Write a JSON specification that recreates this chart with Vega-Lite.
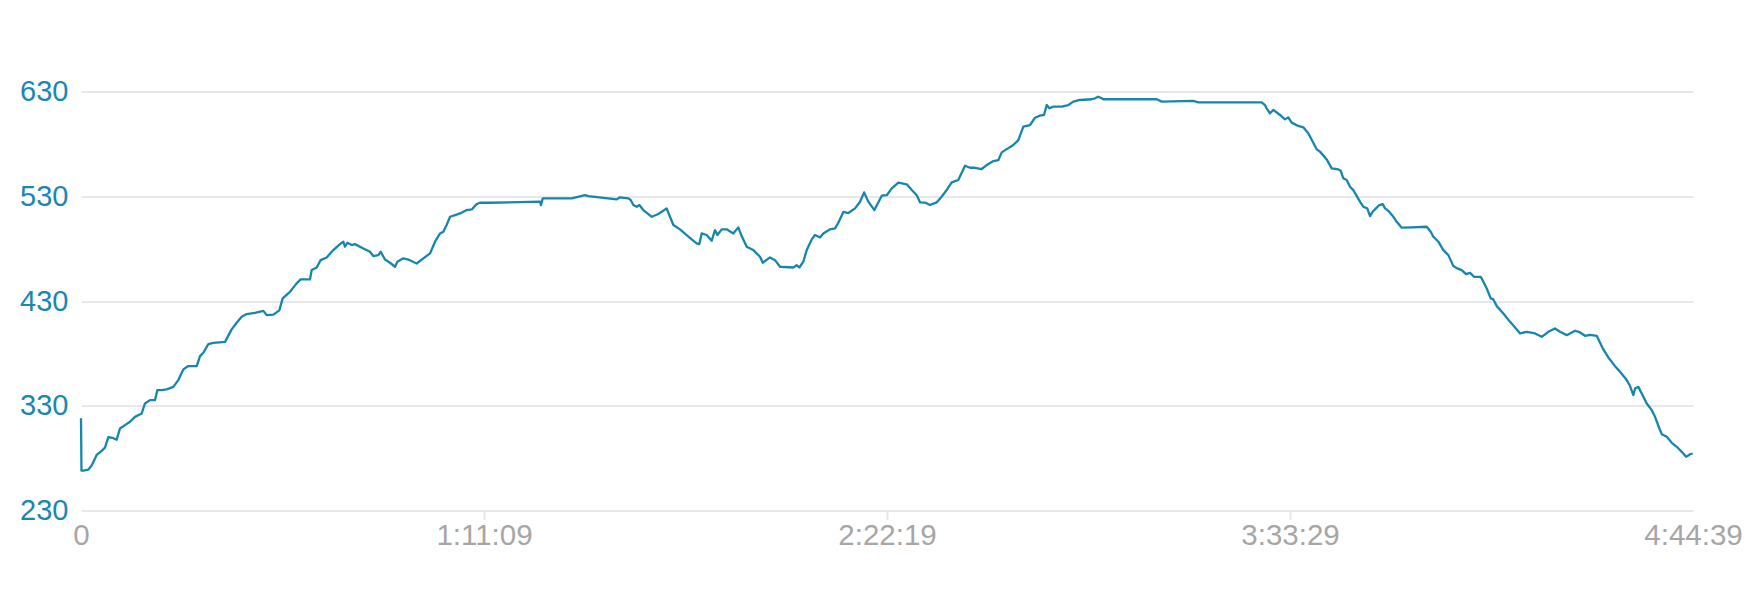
{
  "$schema": "https://vega.github.io/schema/vega-lite/v6.json",
  "width": 1612,
  "height": 419,
  "autosize": {"type": "none"},
  "padding": {"left": 81, "top": 91.5, "right": 63, "bottom": 88.5},
  "background": "#ffffff",
  "config": {
    "view": {"stroke": null},
    "font": "Liberation Sans"
  },
  "data": {
    "values": [
      {"t": 0, "e": 318}, {"t": 5, "e": 268}, {"t": 25, "e": 268}, {"t": 78, "e": 269}, {"t": 113, "e": 273},
      {"t": 166, "e": 283}, {"t": 219, "e": 287}, {"t": 254, "e": 290}, {"t": 290, "e": 300}, {"t": 343, "e": 299},
      {"t": 378, "e": 297.6}, {"t": 413, "e": 308.3}, {"t": 466, "e": 311.5}, {"t": 519, "e": 314.7}, {"t": 572, "e": 319.4},
      {"t": 643, "e": 322.6}, {"t": 678, "e": 332.2}, {"t": 731, "e": 335.4}, {"t": 784, "e": 335.4}, {"t": 809, "e": 344.9},
      {"t": 855, "e": 344.9}, {"t": 908, "e": 345.6}, {"t": 978, "e": 348}, {"t": 1031, "e": 354.5}, {"t": 1084, "e": 364.7},
      {"t": 1137, "e": 367.9}, {"t": 1226, "e": 367.9}, {"t": 1261, "e": 377.4}, {"t": 1296, "e": 380.6}, {"t": 1349, "e": 388.8},
      {"t": 1402, "e": 390}, {"t": 1526, "e": 391}, {"t": 1596, "e": 402.9}, {"t": 1649, "e": 409.2}, {"t": 1702, "e": 415},
      {"t": 1755, "e": 417.5}, {"t": 1844, "e": 418.7}, {"t": 1932, "e": 420.6}, {"t": 1967, "e": 416.5}, {"t": 2038, "e": 417},
      {"t": 2101, "e": 421}, {"t": 2137, "e": 432.5}, {"t": 2214, "e": 438.8}, {"t": 2285, "e": 446.8}, {"t": 2327, "e": 450.6},
      {"t": 2426, "e": 450.6}, {"t": 2444, "e": 459.5}, {"t": 2497, "e": 462}, {"t": 2539, "e": 469}, {"t": 2603, "e": 471.6},
      {"t": 2673, "e": 478.6}, {"t": 2744, "e": 484.3}, {"t": 2779, "e": 486.6}, {"t": 2797, "e": 481.8}, {"t": 2822, "e": 485.6},
      {"t": 2868, "e": 483.4}, {"t": 2903, "e": 484.3}, {"t": 2991, "e": 480.2}, {"t": 3062, "e": 477}, {"t": 3097, "e": 472.9},
      {"t": 3150, "e": 473.8}, {"t": 3175, "e": 477}, {"t": 3221, "e": 469.6}, {"t": 3274, "e": 466.5}, {"t": 3327, "e": 462.7},
      {"t": 3352, "e": 467.5}, {"t": 3415, "e": 470.7}, {"t": 3468, "e": 469.6}, {"t": 3556, "e": 465.8}, {"t": 3627, "e": 470.7},
      {"t": 3698, "e": 475.4}, {"t": 3751, "e": 486.6}, {"t": 3804, "e": 494.5}, {"t": 3839, "e": 496.1}, {"t": 3874, "e": 502.5},
      {"t": 3910, "e": 510.4}, {"t": 3963, "e": 512}, {"t": 4016, "e": 513.6}, {"t": 4087, "e": 516.8}, {"t": 4140, "e": 517.4},
      {"t": 4192, "e": 522.5}, {"t": 4227, "e": 523.8}, {"t": 4333, "e": 523.8}, {"t": 4863, "e": 524.8}, {"t": 4874, "e": 521.6},
      {"t": 4892, "e": 528}, {"t": 5199, "e": 528}, {"t": 5340, "e": 531.1}, {"t": 5375, "e": 530.1}, {"t": 5676, "e": 527},
      {"t": 5711, "e": 529}, {"t": 5799, "e": 528}, {"t": 5824, "e": 526.4}, {"t": 5852, "e": 521.6}, {"t": 5888, "e": 520},
      {"t": 5915, "e": 521.6}, {"t": 5958, "e": 516.8}, {"t": 6047, "e": 510.4}, {"t": 6117, "e": 513}, {"t": 6205, "e": 518.4},
      {"t": 6240, "e": 510.4}, {"t": 6276, "e": 502.5}, {"t": 6346, "e": 498.4}, {"t": 6417, "e": 493}, {"t": 6470, "e": 488.8},
      {"t": 6523, "e": 485}, {"t": 6551, "e": 484.4}, {"t": 6576, "e": 494.5}, {"t": 6629, "e": 493}, {"t": 6682, "e": 487.5},
      {"t": 6717, "e": 497.7}, {"t": 6742, "e": 493}, {"t": 6788, "e": 498.4}, {"t": 6841, "e": 498.4}, {"t": 6911, "e": 494.5},
      {"t": 6964, "e": 500.3}, {"t": 7000, "e": 492}, {"t": 7053, "e": 481.8}, {"t": 7123, "e": 478.6}, {"t": 7194, "e": 472.2},
      {"t": 7223, "e": 466.5}, {"t": 7300, "e": 471.6}, {"t": 7353, "e": 469}, {"t": 7406, "e": 462.7}, {"t": 7547, "e": 462},
      {"t": 7583, "e": 464.3}, {"t": 7611, "e": 462}, {"t": 7653, "e": 467.5}, {"t": 7689, "e": 478.6}, {"t": 7742, "e": 488.8},
      {"t": 7777, "e": 493}, {"t": 7830, "e": 490.7}, {"t": 7865, "e": 494.5}, {"t": 7936, "e": 498.4}, {"t": 7989, "e": 499.3},
      {"t": 8024, "e": 504.7}, {"t": 8077, "e": 515}, {"t": 8130, "e": 514}, {"t": 8201, "e": 518.4}, {"t": 8254, "e": 524.8},
      {"t": 8297, "e": 533.7}, {"t": 8342, "e": 524.8}, {"t": 8406, "e": 516.8}, {"t": 8484, "e": 530.5}, {"t": 8537, "e": 531},
      {"t": 8590, "e": 537.5}, {"t": 8660, "e": 542.9}, {"t": 8749, "e": 541.4}, {"t": 8802, "e": 536}, {"t": 8855, "e": 531},
      {"t": 8889, "e": 524.2}, {"t": 8942, "e": 524}, {"t": 8995, "e": 521.6}, {"t": 9066, "e": 524.2}, {"t": 9119, "e": 529.6},
      {"t": 9172, "e": 536}, {"t": 9225, "e": 543.3}, {"t": 9295, "e": 545.5}, {"t": 9366, "e": 559.1}, {"t": 9419, "e": 557.2},
      {"t": 9472, "e": 557.2}, {"t": 9543, "e": 556}, {"t": 9596, "e": 559.8}, {"t": 9667, "e": 563.6}, {"t": 9720, "e": 564.6},
      {"t": 9755, "e": 571.9}, {"t": 9808, "e": 575}, {"t": 9878, "e": 578.9}, {"t": 9931, "e": 583.6}, {"t": 9984, "e": 596.4},
      {"t": 10055, "e": 598}, {"t": 10108, "e": 605}, {"t": 10161, "e": 607}, {"t": 10203, "e": 607.6}, {"t": 10232, "e": 617.1},
      {"t": 10259, "e": 614}, {"t": 10301, "e": 615.6}, {"t": 10391, "e": 615.6}, {"t": 10461, "e": 617.1}, {"t": 10514, "e": 620.3},
      {"t": 10584, "e": 621.9}, {"t": 10708, "e": 622.6}, {"t": 10743, "e": 623.5}, {"t": 10778, "e": 625}, {"t": 10814, "e": 623.5},
      {"t": 10831, "e": 622.6}, {"t": 11397, "e": 622.6}, {"t": 11450, "e": 620.3}, {"t": 11785, "e": 621}, {"t": 11838, "e": 619.7},
      {"t": 12509, "e": 619.7}, {"t": 12544, "e": 617}, {"t": 12562, "e": 614}, {"t": 12597, "e": 609.2}, {"t": 12633, "e": 612.4},
      {"t": 12703, "e": 607.6}, {"t": 12756, "e": 603.4}, {"t": 12791, "e": 605.3}, {"t": 12827, "e": 600.3}, {"t": 12897, "e": 597.1},
      {"t": 12950, "e": 595.8}, {"t": 13003, "e": 590.1}, {"t": 13092, "e": 574.8}, {"t": 13127, "e": 572.6}, {"t": 13198, "e": 565.2},
      {"t": 13251, "e": 556.6}, {"t": 13321, "e": 555.6}, {"t": 13346, "e": 554.4}, {"t": 13374, "e": 547.1}, {"t": 13410, "e": 545.5},
      {"t": 13445, "e": 539.1}, {"t": 13480, "e": 535.9}, {"t": 13551, "e": 524.8}, {"t": 13586, "e": 520}, {"t": 13628, "e": 518.4},
      {"t": 13657, "e": 511}, {"t": 13685, "e": 515.2}, {"t": 13720, "e": 518.4}, {"t": 13756, "e": 521.6}, {"t": 13792, "e": 522.5},
      {"t": 13816, "e": 518.4}, {"t": 13851, "e": 516.1}, {"t": 13904, "e": 510.4}, {"t": 13940, "e": 505.6}, {"t": 13993, "e": 500},
      {"t": 14099, "e": 500.3}, {"t": 14258, "e": 500.9}, {"t": 14300, "e": 496.1}, {"t": 14328, "e": 491.3}, {"t": 14381, "e": 486.6},
      {"t": 14434, "e": 478.6}, {"t": 14487, "e": 473.8}, {"t": 14540, "e": 463.3}, {"t": 14582, "e": 461.1}, {"t": 14629, "e": 459.5},
      {"t": 14674, "e": 455.6}, {"t": 14717, "e": 456.9}, {"t": 14759, "e": 453.1}, {"t": 14830, "e": 453.1}, {"t": 14858, "e": 448.3},
      {"t": 14894, "e": 441.9}, {"t": 14936, "e": 432.5}, {"t": 14964, "e": 431.5}, {"t": 15000, "e": 425.1}, {"t": 15070, "e": 418.1},
      {"t": 15141, "e": 410.1}, {"t": 15194, "e": 404.7}, {"t": 15247, "e": 399}, {"t": 15318, "e": 400.6}, {"t": 15406, "e": 399},
      {"t": 15476, "e": 395.8}, {"t": 15546, "e": 400.6}, {"t": 15617, "e": 403.8}, {"t": 15670, "e": 400.6}, {"t": 15741, "e": 397.4},
      {"t": 15829, "e": 401.6}, {"t": 15882, "e": 400}, {"t": 15935, "e": 396.8}, {"t": 15988, "e": 397.7}, {"t": 16059, "e": 396.8},
      {"t": 16129, "e": 383.8}, {"t": 16182, "e": 376.1}, {"t": 16253, "e": 367.8}, {"t": 16306, "e": 362.4}, {"t": 16377, "e": 354.5},
      {"t": 16412, "e": 348.8}, {"t": 16447, "e": 340.1}, {"t": 16465, "e": 346.5}, {"t": 16500, "e": 348}, {"t": 16536, "e": 341.7},
      {"t": 16589, "e": 332.2}, {"t": 16642, "e": 325.8}, {"t": 16677, "e": 319.4}, {"t": 16723, "e": 308.3}, {"t": 16748, "e": 302.9},
      {"t": 16801, "e": 300.3}, {"t": 16854, "e": 294.6}, {"t": 16907, "e": 290.8}, {"t": 16960, "e": 286}, {"t": 17006, "e": 281.2},
      {"t": 17048, "e": 283.7}, {"t": 17076, "e": 284.4}
    ]
  },
  "mark": {"type": "line", "color": "#1786ad", "strokeWidth": 2.3, "strokeJoin": "round", "clip": false},
  "encoding": {
    "x": {
      "field": "t",
      "type": "quantitative",
      "scale": {"domain": [0, 17079], "nice": false, "zero": false},
      "axis": {
        "title": null,
        "values": [0, 4269.75, 8539.5, 12809.25, 17079],
        "labelExpr": "datum.value == 0 ? '0' : floor(datum.value/3600) + ':' + (floor(datum.value%3600/60) < 10 ? '0' : '') + floor(datum.value%3600/60) + ':' + (floor(datum.value%60) < 10 ? '0' : '') + floor(datum.value%60)",
        "grid": false,
        "domain": false,
        "ticks": true,
        "tickSize": 9,
        "tickWidth": 2,
        "tickColor": "#e6e6e6",
        "tickOpacity": {"condition": {"test": "datum.value <= 0 || datum.value >= 17079", "value": 0}, "value": 1},
        "labelColor": "#a6a6a6",
        "labelFontSize": 29.5,
        "labelFont": "Liberation Sans",
        "labelPadding": 2,
        "labelFlush": false,
        "labelOverlap": false
      }
    },
    "y": {
      "field": "e",
      "type": "quantitative",
      "scale": {"domain": [230, 630], "nice": false, "zero": false},
      "axis": {
        "title": null,
        "values": [230, 330, 430, 530, 630],
        "grid": true,
        "gridColor": "#e8e8e8",
        "gridWidth": 2,
        "domain": false,
        "ticks": false,
        "labelColor": "#1a87b0",
        "labelFontSize": 29,
        "labelFont": "Liberation Sans",
        "labelPadding": 13,
        "labelOverlap": false
      }
    }
  }
}
